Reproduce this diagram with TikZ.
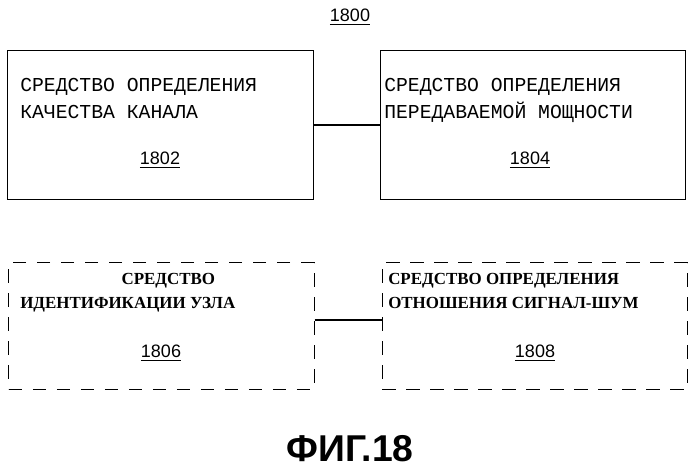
\documentclass[tikz,border=0pt]{standalone}
\usepackage{fontspec}
\setmainfont{Liberation Serif}
\newfontfamily\monofont{Liberation Mono}
\newfontfamily\sansfont{Liberation Sans}
\usetikzlibrary{positioning}
\tikzset{
    solidbox/.style={
           rectangle,
           draw=black, thick,
           minimum width=229pt,
           minimum height=112pt,
           },
    dashbox/.style={
           solidbox,
           dashed, dash pattern=on 10pt off 8pt,
           minimum height=95pt,
           },
    label/.style={font=\monofont\fontsize{14.8}{20}\selectfont, align=left, anchor=north west, inner sep=0pt},
    boldlabel/.style={font=\bfseries\fontsize{12.7}{18}\selectfont, align=left, anchor=north west, inner sep=0pt},
    num/.style={font=\sansfont\fontsize{13.5}{16}\selectfont},
}
\newcommand{\refnum}[1]{\underline{#1}}
\begin{document}
\begin{tikzpicture}[x=0.75pt,y=-0.75pt]
  \useasboundingbox (0,0) rectangle (699,470);

  % top row
  \node[solidbox] (QUALITY) at (160.5,125) {};
  \node[solidbox] (POWER) at (533,125) {};
  % bottom row
  \node[dashbox] (NODEID) at (161.5,326) {};
  \node[dashbox] (SNR) at (535,326) {};

  \node[label] (QUALITYTXT) at (20,78) {СРЕДСТВО ОПРЕДЕЛЕНИЯ\\КАЧЕСТВА КАНАЛА};
  \node[label] (POWERTXT) at (384,78) {СРЕДСТВО ОПРЕДЕЛЕНИЯ\\ПЕРЕДАВАЕМОЙ МОЩНОСТИ};
  \node[num] (QUALITYNUM) at (160,160) {\refnum{1802}};
  \node[num] (POWERNUM) at (530,160) {\refnum{1804}};

  \node[boldlabel] (NODEIDTXT) at (20,273) {\hspace*{76pt}СРЕДСТВО\\ИДЕНТИФИКАЦИИ УЗЛА};
  \node[boldlabel] (SNRTXT) at (388,273) {СРЕДСТВО ОПРЕДЕЛЕНИЯ\\ОТНОШЕНИЯ СИГНАЛ-ШУМ};
  \node[num] (NODEIDNUM) at (161,353) {\refnum{1806}};
  \node[num] (SNRNUM) at (535,353) {\refnum{1808}};

  \node[num] (TITLE) at (350,17) {\refnum{1800}};
  \node[font=\sansfont\bfseries\fontsize{28}{32}\selectfont] (FIG) at (350,449) {ФИГ.18};

  % connectors
  \draw[thick] (QUALITY.east) -- (POWER.west);
  \draw[thick] (NODEID.east |- 0,320) coordinate (L) -- (SNR.west |- L);
\end{tikzpicture}
\end{document}
